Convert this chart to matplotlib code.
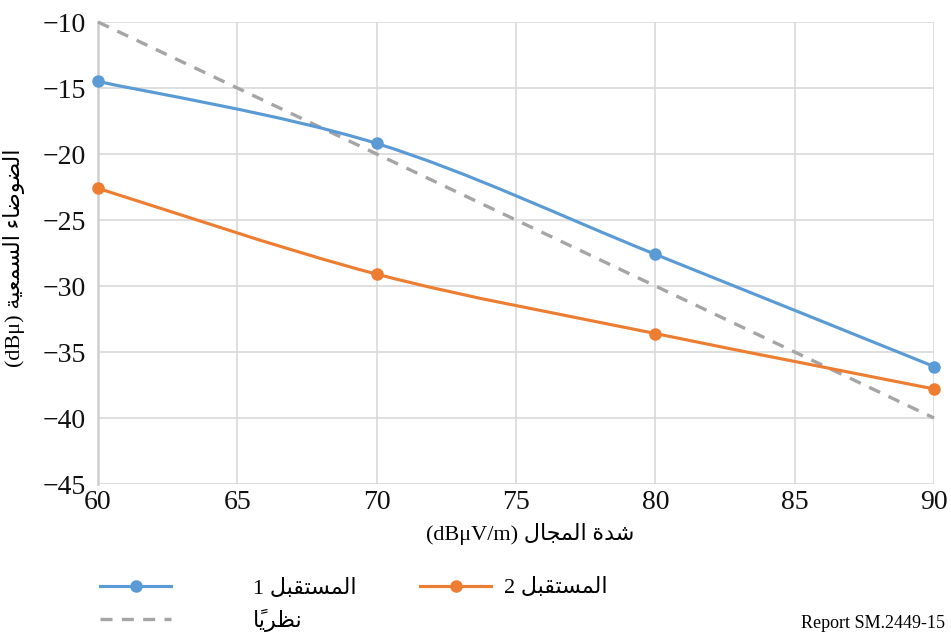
import numpy as np
import matplotlib
matplotlib.use("Agg")
import matplotlib.pyplot as plt
from matplotlib.path import Path
from matplotlib.patches import PathPatch
from matplotlib.lines import Line2D

plt.rcParams['font.family'] = ['Liberation Serif', 'DejaVu Sans']
plt.rcParams['axes.unicode_minus'] = True

# field strength (dBuV/m) and audible noise (dBu)
field = [60, 70, 80, 90]
receiver1 = [-14.5, -19.2, -27.6, -36.1]
receiver2 = [-22.6, -29.1, -33.6, -37.8]
theory_x = [60, 90]
theory_y = [-10, -40]

x_ticks = [60, 65, 70, 75, 80, 85, 90]
y_ticks = [-10, -15, -20, -25, -30, -35, -40, -45]

BLUE = '#5b9bd5'
ORANGE = '#ed7d31'
GREY = '#a5a5a5'

# contextual forms (isolated, final, initial, medial) for the letters used
FORMS = {
    '\u0621': ('\ufe80', None, None, None),
    '\u0627': ('\ufe8d', '\ufe8e', None, None),
    '\u0628': ('\ufe8f', '\ufe90', '\ufe91', '\ufe92'),
    '\u0629': ('\ufe93', '\ufe94', None, None),
    '\u062a': ('\ufe95', '\ufe96', '\ufe97', '\ufe98'),
    '\u062c': ('\ufe9d', '\ufe9e', '\ufe9f', '\ufea0'),
    '\u062f': ('\ufea9', '\ufeaa', None, None),
    '\u0631': ('\ufead', '\ufeae', None, None),
    '\u0633': ('\ufeb1', '\ufeb2', '\ufeb3', '\ufeb4'),
    '\u0634': ('\ufeb5', '\ufeb6', '\ufeb7', '\ufeb8'),
    '\u0636': ('\ufebd', '\ufebe', '\ufebf', '\ufec0'),
    '\u0638': ('\ufec5', '\ufec6', '\ufec7', '\ufec8'),
    '\u0639': ('\ufec9', '\ufeca', '\ufecb', '\ufecc'),
    '\u0642': ('\ufed5', '\ufed6', '\ufed7', '\ufed8'),
    '\u0644': ('\ufedd', '\ufede', '\ufedf', '\ufee0'),
    '\u0645': ('\ufee1', '\ufee2', '\ufee3', '\ufee4'),
    '\u0646': ('\ufee5', '\ufee6', '\ufee7', '\ufee8'),
    '\u0648': ('\ufeed', '\ufeee', None, None),
    '\u064a': ('\ufef1', '\ufef2', '\ufef3', '\ufef4'),
}


def is_mark(c):
    return '\u064b' <= c <= '\u0652'


def ar(text):
    # join letters and lay them out right to left
    letters = [i for i, c in enumerate(text) if not is_mark(c)]
    clusters = []
    for k, i in enumerate(letters):
        c = text[i]
        prev = text[letters[k - 1]] if k > 0 else None
        nxt = text[letters[k + 1]] if k + 1 < len(letters) else None
        marks = ''
        j = i + 1
        while j < len(text) and is_mark(text[j]):
            marks += text[j]
            j += 1
        if c not in FORMS:
            clusters.append(c + marks)
            continue
        f = FORMS[c]
        jp = prev in FORMS and FORMS[prev][2] is not None and f[1] is not None
        jn = f[2] is not None and nxt in FORMS and FORMS[nxt][1] is not None
        if jp and jn:
            g = f[3]
        elif jp:
            g = f[1]
        elif jn:
            g = f[2]
        else:
            g = f[0]
        clusters.append(g + marks)
    return ''.join(reversed(clusters))


def smooth_path(xs, ys):
    # Catmull-Rom style bezier through the points
    pts = np.column_stack([xs, ys]).astype(float)
    ext = np.vstack([pts[0], pts, pts[-1]])
    verts = [tuple(pts[0])]
    codes = [Path.MOVETO]
    for i in range(len(pts) - 1):
        p0, p1, p2, p3 = ext[i], ext[i + 1], ext[i + 2], ext[i + 3]
        c1 = p1 + (p2 - p0) / 6.0
        c2 = p2 - (p3 - p1) / 6.0
        verts += [tuple(c1), tuple(c2), tuple(p2)]
        codes += [Path.CURVE4] * 3
    return Path(verts, codes)


fig = plt.figure(figsize=(9.51, 6.37), dpi=100)
ax = fig.add_axes([98 / 951, 1 - 484 / 637, 836 / 951, 462 / 637])

ax.plot(theory_x, theory_y, color=GREY, lw=2.4, dashes=(3.6, 2.8), clip_on=False, zorder=3)

for ys, col in [(receiver1, BLUE), (receiver2, ORANGE)]:
    ax.add_patch(PathPatch(smooth_path(field, ys), fill=False, edgecolor=col,
                           lw=2.25, capstyle='round', clip_on=False, zorder=4))
    ax.plot(field, ys, 'o', color=col, ms=8, clip_on=False, zorder=5)

ax.set_xlim(60, 90)
ax.set_ylim(-45, -10)
ax.set_xticks(x_ticks)
ax.set_yticks(y_ticks)
ax.tick_params(length=0, labelsize=20, colors='#111111')
ax.tick_params(axis='y', pad=9)
ax.tick_params(axis='x', pad=4)
ax.grid(True, color='#d9d9d9', lw=1.2)
# no grid line along the bottom edge
for t in ax.yaxis.get_major_ticks():
    if t.get_loc() == -45:
        t.gridline.set_visible(False)
for s in ['top', 'right', 'bottom']:
    ax.spines[s].set_visible(False)
ax.spines['left'].set_color('#cfcfcf')
ax.spines['left'].set_linewidth(1.8)
ax.set_axisbelow(True)

ax.set_ylabel('(dB\u03bc) ' + ar('الضوضاء السمعية'), fontsize=16)
ax.yaxis.set_label_coords(-0.087, 0.49)
ax.set_xlabel('(dB\u03bcV/m) ' + ar('شدة المجال'), fontsize=16)
ax.xaxis.set_label_coords(0.517, -0.085)

h1 = Line2D([], [], color=BLUE, lw=2.25, marker='o', ms=8)
h2 = Line2D([], [], color=ORANGE, lw=2.25, marker='o', ms=8)
h3 = Line2D([], [], color=GREY, lw=2.4, dashes=(3.6, 2.8))

leg1 = fig.legend([h1, h3], ['1 ' + ar('المستقبل'), ar('نظرياً')],
                  loc='center left', bbox_to_anchor=(100 / 951, 1 - 605 / 637),
                  frameon=False, fontsize=16, handlelength=3.2, handletextpad=3.7,
                  labelspacing=0.45, borderpad=0, borderaxespad=0)
leg2 = fig.legend([h2], ['2 ' + ar('المستقبل')],
                  loc='center left', bbox_to_anchor=(420 / 951, 1 - 588 / 637),
                  frameon=False, fontsize=16, handlelength=3.2, handletextpad=0.6,
                  borderpad=0, borderaxespad=0)

fig.text(945 / 951, 1 - 623 / 637, 'Report SM.2449-15', ha='right', va='center', fontsize=13)

fig.savefig('out.png', dpi=100)
